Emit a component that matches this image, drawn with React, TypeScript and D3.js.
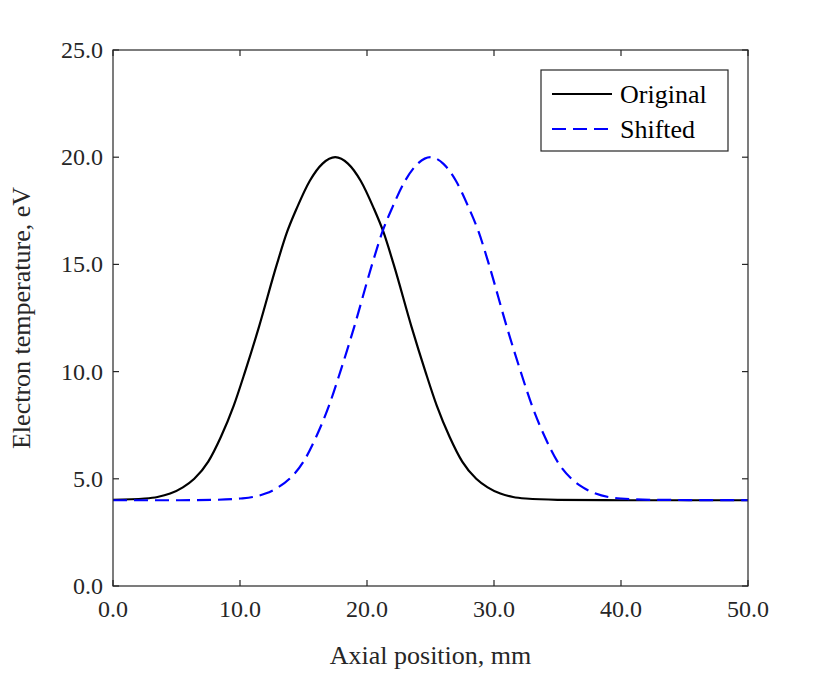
import React from 'react';
import * as d3 from 'd3';

const xTicks = [0, 10, 20, 30, 40, 50];
const yTicks = [0, 5, 10, 15, 20, 25];

const originalX = [0, 2.5, 3.5, 4.5, 5.5, 6.4, 7.5, 8.5, 9.5, 10.4, 11.5, 12.9, 13.7, 14.5, 15.5, 16.5, 17.5, 18.5, 19.5, 20.5, 21.3, 22.1, 23.5, 24.6, 25.5, 26.5, 27.5, 28.6, 29.5, 30.5, 31.5, 32.5, 35, 40, 50];
const originalY = [4.02, 4.08, 4.15, 4.31, 4.6, 5.0, 5.8, 6.96, 8.4, 10, 12.1, 15, 16.5, 17.66, 18.9, 19.7, 20, 19.7, 18.9, 17.66, 16.5, 15, 12.1, 10, 8.4, 6.96, 5.8, 5.0, 4.6, 4.31, 4.15, 4.08, 4.02, 4.0, 4.0];
const shiftedX = [0, 5, 8, 10, 11, 12, 13, 13.9, 15, 16, 17, 17.9, 19, 20.4, 21.2, 22, 23, 24, 25, 26, 27, 28, 28.8, 29.6, 31, 32.1, 33, 34, 35, 36.1, 37, 38, 39, 40, 42.5, 50];
const shiftedY = [4.0, 4.0, 4.02, 4.08, 4.15, 4.31, 4.6, 5.0, 5.8, 6.96, 8.4, 10, 12.1, 15, 16.5, 17.66, 18.9, 19.7, 20, 19.7, 18.9, 17.66, 16.5, 15, 12.1, 10, 8.4, 6.96, 5.8, 5.0, 4.6, 4.31, 4.15, 4.08, 4.02, 4.0];

const W = 825, H = 675;
const m = { left: 113, right: 748, top: 50, bottom: 586 };
const font = '"Liberation Serif", "Times New Roman", serif';

export default function App() {
  const x = d3.scaleLinear().domain([0, 50]).range([m.left, m.right]);
  const y = d3.scaleLinear().domain([0, 25]).range([m.bottom, m.top]);
  const line = d3.line<[number, number]>().x(d => x(d[0])).y(d => y(d[1])).curve(d3.curveMonotoneX);
  const orig = line(originalX.map((v, i) => [v, originalY[i]] as [number, number]))!;
  const shift = line(shiftedX.map((v, i) => [v, shiftedY[i]] as [number, number]))!;
  const tl = 6;
  return (
    <svg width={W} height={H} style={{ position: 'absolute', left: 0, top: 0 }} fontFamily={font}>
      <rect x={0} y={0} width={W} height={H} fill="white" />
      <path d={orig} fill="none" stroke="black" strokeWidth={2.2} />
      <path d={shift} fill="none" stroke="#0000ff" strokeWidth={2.2} strokeDasharray="14,7" />
      <rect x={m.left} y={m.top} width={m.right - m.left} height={m.bottom - m.top} fill="none" stroke="#262626" strokeWidth={1.2} />
      {xTicks.map(t => (
        <g key={'x' + t}>
          <line x1={x(t)} x2={x(t)} y1={m.bottom} y2={m.bottom - tl} stroke="#262626" strokeWidth={1.2} />
          <line x1={x(t)} x2={x(t)} y1={m.top} y2={m.top + tl} stroke="#262626" strokeWidth={1.2} />
          <text x={x(t)} y={m.bottom + 31} textAnchor="middle" fontSize={24} fill="#262626">{t.toFixed(1)}</text>
        </g>
      ))}
      {yTicks.map(t => (
        <g key={'y' + t}>
          <line x1={m.left} x2={m.left + tl} y1={y(t)} y2={y(t)} stroke="#262626" strokeWidth={1.2} />
          <line x1={m.right} x2={m.right - tl} y1={y(t)} y2={y(t)} stroke="#262626" strokeWidth={1.2} />
          <text x={m.left - 10} y={y(t) + 8} textAnchor="end" fontSize={24} fill="#262626">{t.toFixed(1)}</text>
        </g>
      ))}
      <text x={(m.left + m.right) / 2} y={664} textAnchor="middle" fontSize={26} fill="#262626">Axial position, mm</text>
      <text transform={`translate(30,${(m.top + m.bottom) / 2}) rotate(-90)`} textAnchor="middle" fontSize={26} fill="#262626">Electron temperature, eV</text>
      <g>
        <rect x={541} y={70} width={187} height={81} fill="white" stroke="#262626" strokeWidth={1.2} />
        <line x1={552} x2={612} y1={94} y2={94} stroke="black" strokeWidth={2.2} />
        <text x={620} y={103} fontSize={26} fill="black">Original</text>
        <line x1={552} x2={612} y1={129} y2={129} stroke="#0000ff" strokeWidth={2.2} strokeDasharray="14,7" />
        <text x={620} y={138} fontSize={26} fill="black">Shifted</text>
      </g>
    </svg>
  );
}
